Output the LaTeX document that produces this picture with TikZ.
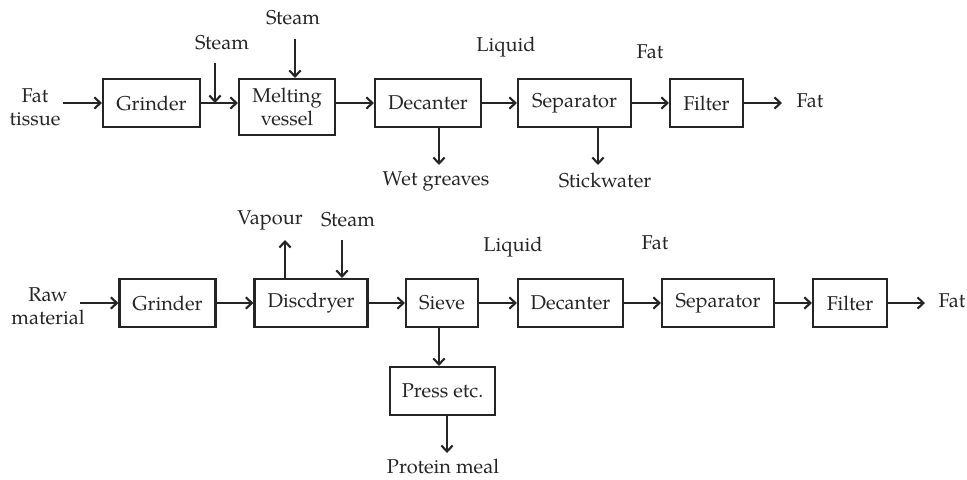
\documentclass[tikz,border=0pt]{standalone}
\usepackage{fontspec}
\setmainfont{TeX Gyre Pagella}
\usetikzlibrary{arrows.meta,calc}
\definecolor{ink}{HTML}{252525}
\begin{document}
\begin{tikzpicture}[x=0.75pt,y=-0.75pt,
  font=\fontsize{15}{17.5}\selectfont,
  every node/.style={text=ink},
  box/.style={draw=ink,line width=1.6pt,inner sep=0pt,minimum height=36pt,align=center},
  lbl/.style={inner sep=0pt,align=center},
  flow/.style={draw=ink,line width=1.6pt,-{Straight Barb[length=4.5pt,width=8.5pt,line width=1.6pt]}}]
\useasboundingbox (0,0) rectangle (967,479);
% ---------- top row ----------
\node[box,minimum width=72.75pt] (g1) at (151.5,103) {Grinder};
\node[box,minimum width=72pt,minimum height=42pt] (mv) at (287,107) {Melting\\vessel};
\node[box,minimum width=79.5pt] (d1) at (428,103) {Decanter};
\node[box,minimum width=84.75pt] (s1) at (574.5,103) {Separator};
\node[box,minimum width=54.75pt] (f1) at (706.5,103) {Filter};
\node[lbl] (ft) at (35,107) {Fat\\tissue};
\node[lbl] (st1) at (222,43) {Steam};
\node[lbl] (st2) at (293,18) {Steam};
\node[lbl] (liq1) at (506,47) {Liquid};
\node[lbl] (fat1) at (650,52) {Fat};
\node[lbl] (fat1o) at (810,101) {Fat};
\node[lbl] (wg) at (436,181) {Wet greaves};
\node[lbl] (sw) at (605,180) {Stickwater};
\coordinate (ftin) at (63,103);
\coordinate (st1a) at (215,63);
\coordinate (st2a) at (295,39);
\coordinate (f1out) at (782,103);
\coordinate (wga) at (439,165);
\coordinate (swa) at (598,165);
\draw[flow] (ftin) -- (g1.west);
\draw[flow] (g1.east) -- (g1.east -| mv.west);
\draw[flow] (st1a) -- (st1a |- g1.east);
\draw[flow] (st2a) -- (st2a |- mv.north);
\draw[flow] (mv.east |- d1.west) -- (d1.west);
\draw[flow] (d1.east) -- (s1.west);
\draw[flow] (s1.east) -- (f1.west);
\draw[flow] (f1.east) -- (f1out);
\draw[flow] (wga |- d1.south) -- (wga);
\draw[flow] (swa |- s1.south) -- (swa);
% ---------- bottom row ----------
\node[box,minimum width=72pt] (g2) at (167.5,303) {Grinder};
\node[box,minimum width=84.75pt] (dd) at (311,303) {Discdryer};
\node[box,minimum width=54pt] (sv) at (442,303) {Sieve};
\node[box,minimum width=78.75pt] (d2) at (570.5,303) {Decanter};
\node[box,minimum width=84pt] (s2) at (718,303) {Separator};
\node[box,minimum width=55.5pt] (f2) at (850,303) {Filter};
\node[box,minimum width=78.75pt] (pr) at (442.5,391) {Press etc.};
\node[lbl] (rm) at (48,306) {Raw\\material};
\node[lbl] (vp) at (270,220) {Vapour};
\node[lbl] (st3) at (348,220) {Steam};
\node[lbl] (liq2) at (513,247) {Liquid};
\node[lbl] (fat2) at (655,243) {Fat};
\node[lbl] (fat2o) at (952,301) {Fat};
\node[lbl] (pm) at (443,466) {Protein meal};
\coordinate (rmin) at (80,303);
\coordinate (vpa) at (285,240);
\coordinate (st3a) at (342,240);
\coordinate (f2out) at (925,303);
\coordinate (sva) at (439,327);
\coordinate (pra) at (447,453);
\draw[flow] (rmin) -- (g2.west);
\draw[flow] (g2.east) -- (dd.west);
\draw[flow] (dd.east) -- (sv.west);
\draw[flow] (sv.east) -- (d2.west);
\draw[flow] (d2.east) -- (s2.west);
\draw[flow] (s2.east) -- (f2.west);
\draw[flow] (f2.east) -- (f2out);
\draw[flow] (vpa |- dd.north) -- (vpa);
\draw[flow] (st3a) -- (st3a |- dd.north);
\draw[flow] (sva |- sv.south) -- (sva |- pr.north);
\draw[flow] (pra |- pr.south) -- (pra);
\end{tikzpicture}
\end{document}
